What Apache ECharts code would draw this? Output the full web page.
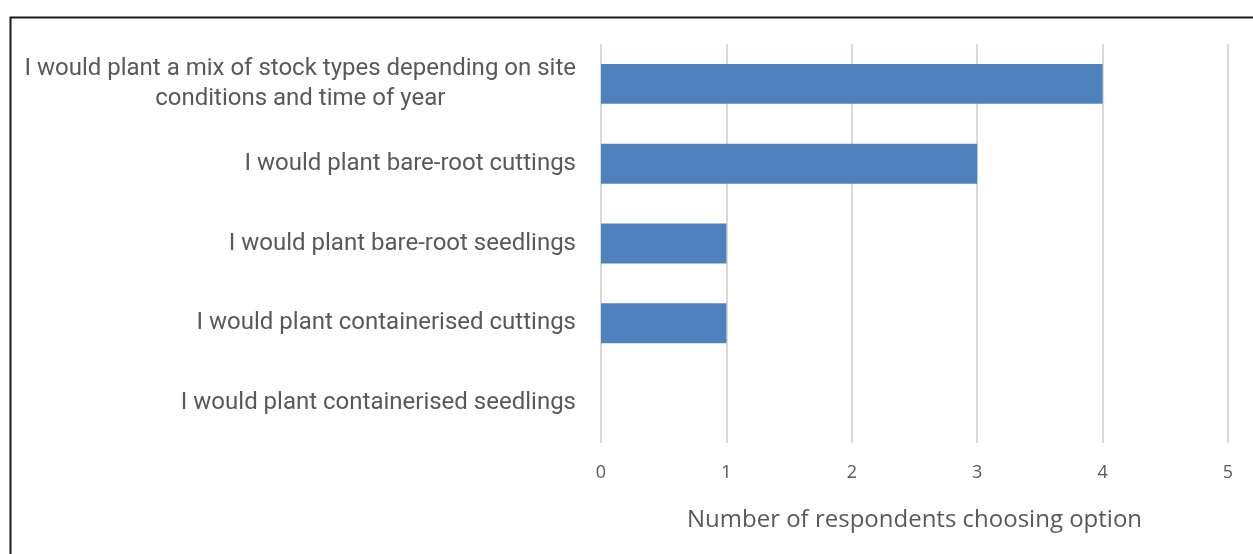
<!DOCTYPE html>
<html>
<head>
<meta charset="utf-8">
<script src="https://cdn.jsdelivr.net/npm/echarts@6/dist/echarts.min.js"></script>
<style>
  html, body { margin: 0; padding: 0; background: #fff; }
  #chart { width: 1253px; height: 554px; }
</style>
</head>
<body>
<div id="chart"></div>
<script>
// Planting preferences: categories listed top to bottom
const categories = [
  'I would plant a mix of stock types depending on site\nconditions and time of year',
  'I would plant bare-root cuttings',
  'I would plant bare-root seedlings',
  'I would plant containerised cuttings',
  'I would plant containerised seedlings'
];
const respondents = [4, 3, 1, 1, 0];
const xTicks = [0, 1, 2, 3, 4, 5];
const xAxisTitle = 'Number of respondents choosing option';

const chart = echarts.init(document.getElementById('chart'), null, { renderer: 'canvas' });

const labelFont = {
  color: '#595959',
  fontSize: 24,
  lineHeight: 30,
  fontFamily: 'Roboto, sans-serif'
};

chart.setOption({
  animation: false,
  backgroundColor: '#ffffff',
  graphic: [{
    type: 'rect',
    left: 8, top: 15,
    shape: { width: 1300, height: 600 },
    style: { fill: 'none', stroke: '#1a1a1a', lineWidth: 2 },
    silent: true
  }],
  grid: { left: 601, right: 25, top: 44, bottom: 111, containLabel: false },
  xAxis: {
    type: 'value',
    min: xTicks[0],
    max: xTicks[xTicks.length - 1],
    interval: 1,
    axisLine: { show: false },
    axisTick: { show: false },
    axisLabel: { color: '#595959', fontSize: 18, fontFamily: 'Open Sans, Noto Sans, sans-serif', margin: 21 },
    splitLine: { show: true, lineStyle: { color: '#d9d9d9', width: 2 } },
    name: xAxisTitle,
    nameLocation: 'middle',
    nameGap: 65,
    nameTextStyle: { color: '#595959', fontSize: 24, fontFamily: 'Open Sans, Noto Sans, sans-serif' }
  },
  yAxis: {
    type: 'category',
    data: categories,
    inverse: true,
    axisLine: { show: false },
    axisTick: { show: false },
    axisLabel: Object.assign({}, labelFont, {
      align: 'right',
      margin: 25,
      // wrapped labels keep their lines centred on each other
      formatter: v => v.split('\n').map(s => '{c|' + s + '}').join('\n'),
      rich: { c: Object.assign({ align: 'center' }, labelFont) }
    })
  },
  series: [{
    type: 'bar',
    data: respondents,
    barCategoryGap: '50%',
    itemStyle: { color: '#4f81bd' }
  }]
});
</script>
</body>
</html>
